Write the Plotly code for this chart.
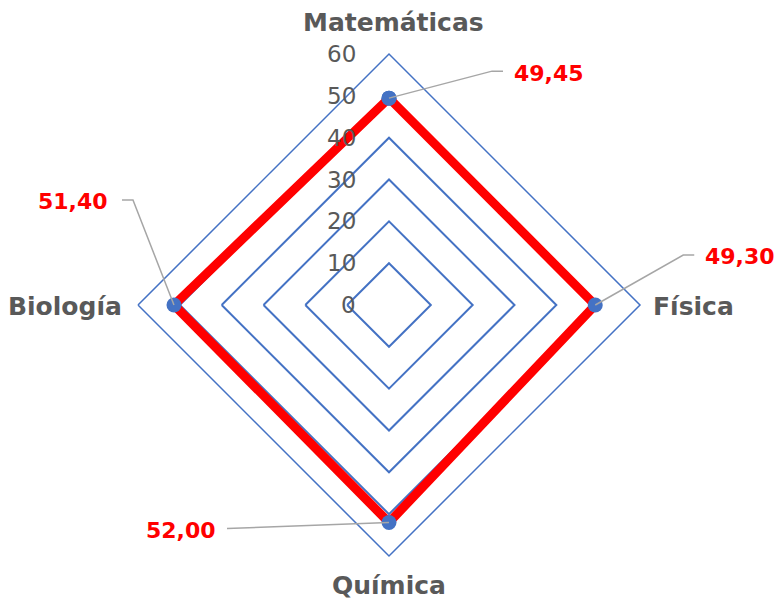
import math
import plotly.graph_objects as go

# ---- data ----
categories = ["Matemáticas", "Física", "Química", "Biología"]
values = [49.45, 49.30, 52.00, 51.40]
value_labels = ["49,45", "49,30", "52,00", "51,40"]
radial_ticks = [0, 10, 20, 30, 40, 50, 60]

# ---- layout constants ----
W, H = 780, 599
CX, CY = 389, 305          # centre in pixels (from top-left)
RPX = 251                  # pixel radius of the outer ring
RMAX = 60
SCALE = RPX / RMAX
angles = [0, 90, 180, 270]  # clockwise from top (layout only)

BLUE = "#4472C4"
RED = "#FF0000"
GRAY = "#595959"
LEADER = "#A6A6A6"

# leader line geometry: pixel offsets (dx, dy-down) from each data point
leader_offsets = [
    [(103, -27), (114, -27)],
    [(88, -50), (99, -50)],
    [(-162, 6), (-162, 6)],
    [(-41, -105), (-52, -105)],
]
# value label offset from leader end, and anchor
label_offsets = [(9, 2), (9, 1), (-9, 2), (-12, 1)]
label_anchor = ["left", "left", "right", "right"]

# category label offsets from outer-ring vertex (dx, dy-down), anchors
cat_offsets = [(4, -31), (11, 1), (0, 29), (-14, 1)]
cat_anchor = ["center", "left", "center", "right"]


def to_px(r, theta):
    return (CX + r * SCALE * math.sin(math.radians(theta)),
            CY - r * SCALE * math.cos(math.radians(theta)))


def to_paper(x, y):
    return x / W, 1 - y / H


fig = go.Figure()

# main series
fig.add_trace(go.Scatterpolar(
    r=values + values[:1], theta=categories + categories[:1], mode="lines+markers",
    line=dict(color=RED, width=9),
    marker=dict(color=BLUE, size=15, line=dict(width=0)),
    showlegend=False))

shapes = []
annotations = []

# radial tick labels
for t in radial_ticks:
    x, y = to_paper(CX - 31, CY - t * SCALE)
    annotations.append(dict(
        x=x, y=y, xref="paper", yref="paper", text=str(t), showarrow=False,
        xanchor="right", yanchor="middle",
        font=dict(family="DejaVu Sans", size=23, color=GRAY)))

# category labels
for cat, a, (dx, dy), anc in zip(categories, angles, cat_offsets, cat_anchor):
    vx, vy = to_px(RMAX, a)
    x, y = to_paper(vx + dx, vy + dy)
    annotations.append(dict(
        x=x, y=y, xref="paper", yref="paper", text=cat, showarrow=False,
        xanchor=anc, yanchor="middle",
        font=dict(family="DejaVu Sans", size=25, color=GRAY, weight="bold")))

# leader lines and value labels
for v, a, offs, lab, (lx, ly), anc in zip(values, angles, leader_offsets,
                                           value_labels, label_offsets, label_anchor):
    px, py = to_px(v, a)
    pts = [(px, py)] + [(px + dx, py + dy) for dx, dy in offs]
    path = "M " + " L ".join(f"{to_paper(x, y)[0]:.5f},{to_paper(x, y)[1]:.5f}" for x, y in pts)
    shapes.append(dict(type="path", path=path, xref="paper", yref="paper",
                       line=dict(color=LEADER, width=1.5), layer="above"))
    ex, ey = pts[-1]
    x, y = to_paper(ex + lx, ey + ly)
    annotations.append(dict(
        x=x, y=y, xref="paper", yref="paper", text=lab, showarrow=False,
        xanchor=anc, yanchor="middle",
        font=dict(family="DejaVu Sans", size=22, color=RED, weight="bold")))

fig.update_layout(
    width=W, height=H,
    margin=dict(l=0, r=0, t=0, b=0),
    paper_bgcolor="white",
    showlegend=False,
    shapes=shapes,
    annotations=annotations,
    polar=dict(
        domain=dict(x=[(CX - RPX) / W, (CX + RPX) / W],
                    y=[(H - CY - RPX) / H, (H - CY + RPX) / H]),
        bgcolor="white",
        gridshape="linear",
        radialaxis=dict(
            range=[0, RMAX], tickvals=radial_ticks, showticklabels=False,
            angle=90, showline=False, ticks="",
            gridcolor=BLUE, gridwidth=1.5,
        ),
        angularaxis=dict(
            rotation=90, direction="clockwise",
            showticklabels=False, ticks="",
            showgrid=False, showline=True, linecolor=BLUE, linewidth=1.5,
        ),
    ),
)

fig.write_html("out.html", config={"displayModeBar": False},
               post_script="document.body.style.margin='0';document.body.style.overflow='hidden';")
